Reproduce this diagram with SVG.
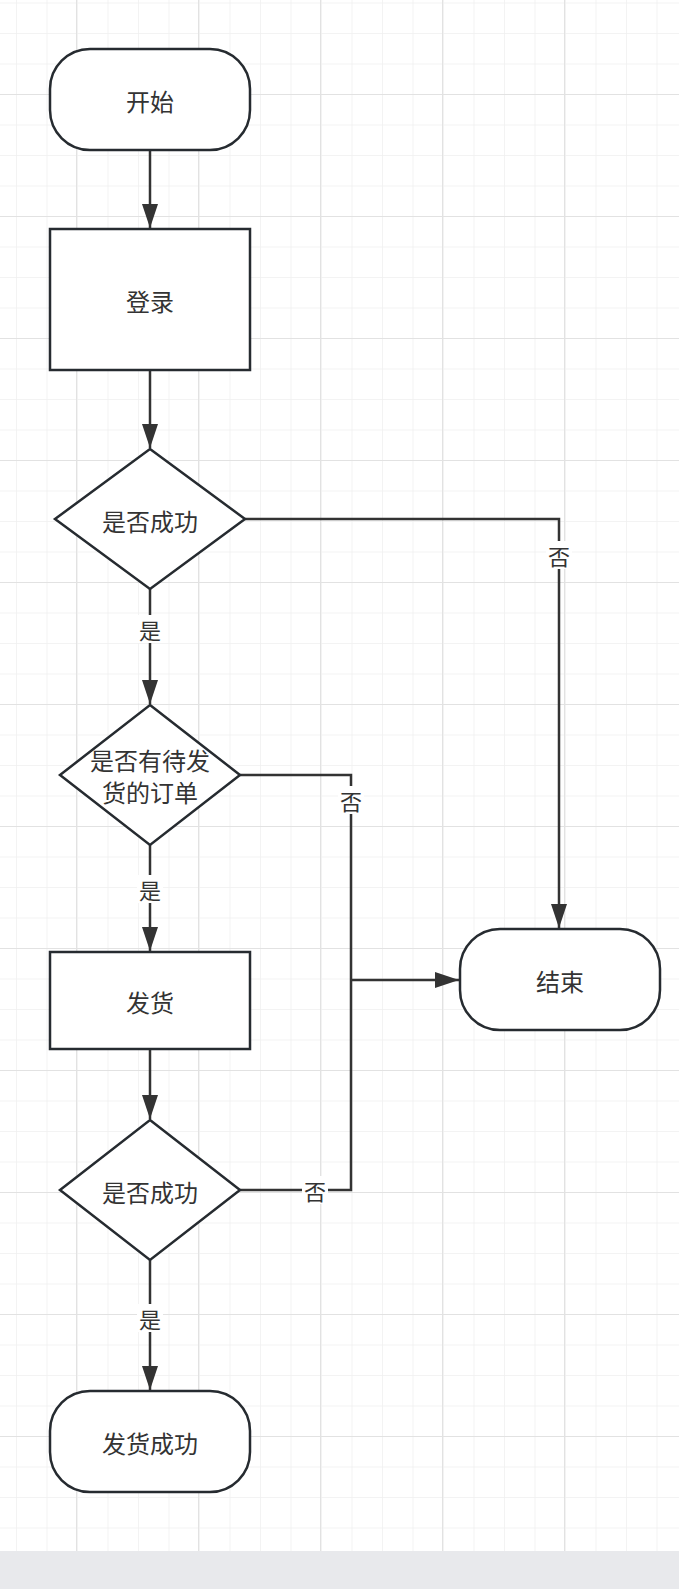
<svg xmlns="http://www.w3.org/2000/svg" width="679" height="1589" viewBox="0 0 679 1589">
<defs>
<pattern id="minor" x="16" y="2.5" width="30.5" height="30.5" patternUnits="userSpaceOnUse"><path d="M0 0V30.5M0 0H30.5" stroke="#f0f0f0" stroke-width="1.5" fill="none"/></pattern>
<pattern id="major" x="76" y="94" width="122" height="122" patternUnits="userSpaceOnUse"><path d="M0 0V122M0 0H122" stroke="#e2e2e2" stroke-width="2" fill="none"/></pattern>
<marker id="ar" markerWidth="24" markerHeight="16" refX="24" refY="8" orient="auto" markerUnits="userSpaceOnUse" viewBox="0 0 24 16"><path d="M0 0L24 8L0 16z" fill="#333"/></marker>
</defs>
<style>
.s{fill:#fff;stroke:#262b30;stroke-width:2.5}
.t{font-family:"Noto Sans CJK SC",sans-serif;font-size:24px;fill:#333;text-anchor:middle;dominant-baseline:central}
.l{font-family:"Noto Sans CJK SC",sans-serif;font-size:22px;fill:#333;text-anchor:middle;dominant-baseline:central}
.c{fill:none;stroke:#333;stroke-width:2.5}
</style>
<rect width="679" height="1589" fill="#fff"/>
<rect width="679" height="1551" fill="url(#minor)"/>
<rect width="679" height="1551" fill="url(#major)"/>
<rect y="1551" width="679" height="38" fill="#e8e9ec"/>
<g id="connectors">
<path class="c" d="M150 150V228" marker-end="url(#ar)"/>
<path class="c" d="M150 370V448" marker-end="url(#ar)"/>
<path class="c" d="M150 589V704" marker-end="url(#ar)"/>
<path class="c" d="M150 845V951" marker-end="url(#ar)"/>
<path class="c" d="M150 1049V1119" marker-end="url(#ar)"/>
<path class="c" d="M150 1260V1390" marker-end="url(#ar)"/>
<path class="c" d="M245 519H559V928" marker-end="url(#ar)"/>
<path class="c" d="M240 775H351V1190H240"/>
<path class="c" d="M351 980H459" marker-end="url(#ar)"/>
<rect x="137" y="615" width="26" height="28" fill="#fff"/><text class="l" x="150" y="629">是</text>
<rect x="137" y="875" width="26" height="28" fill="#fff"/><text class="l" x="150" y="889">是</text>
<rect x="137" y="1304" width="26" height="28" fill="#fff"/><text class="l" x="150" y="1318">是</text>
<rect x="546" y="541" width="26" height="28" fill="#fff"/><text class="l" x="559" y="555">否</text>
<rect x="338" y="786" width="26" height="28" fill="#fff"/><text class="l" x="351" y="800">否</text>
<rect x="302" y="1176" width="26" height="28" fill="#fff"/><text class="l" x="315" y="1190">否</text>
</g>
<g id="start"><rect class="s" x="50" y="49" width="200" height="101" rx="40"/><text class="t" x="150" y="100">开始</text></g>
<g id="login"><rect class="s" x="50" y="229" width="200" height="141"/><text class="t" x="150" y="300">登录</text></g>
<g id="d1"><path class="s" d="M150 449L245 519L150 589L55 519z"/><text class="t" x="150" y="520">是否成功</text></g>
<g id="d2"><path class="s" d="M150 705L240 775L150 845L60 775z"/><text class="t" x="150" y="759">是否有待发</text><text class="t" x="150" y="791">货的订单</text></g>
<g id="ship"><rect class="s" x="50" y="952" width="200" height="97"/><text class="t" x="150" y="1001">发货</text></g>
<g id="d3"><path class="s" d="M150 1120L240 1190L150 1260L60 1190z"/><text class="t" x="150" y="1191">是否成功</text></g>
<g id="done"><rect class="s" x="50" y="1391" width="200" height="101" rx="40"/><text class="t" x="150" y="1442">发货成功</text></g>
<g id="end"><rect class="s" x="460" y="929" width="200" height="101" rx="40"/><text class="t" x="560" y="980">结束</text></g>
</svg>
